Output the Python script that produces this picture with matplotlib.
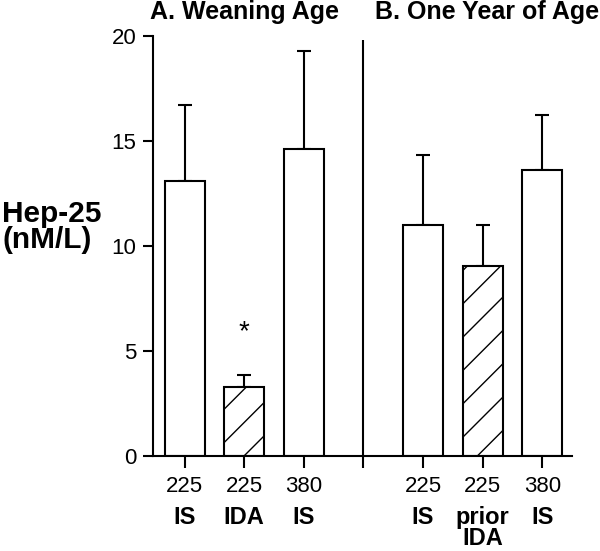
import numpy as np
import matplotlib
matplotlib.use("Agg")
import matplotlib.pyplot as plt
import matplotlib.transforms as mtransforms

plt.rcParams['font.family'] = ['Liberation Sans', 'DejaVu Sans']
plt.rcParams['hatch.linewidth'] = 1.0

# data
doses = ['225', '225', '380', '', '225', '225', '380']
groups = ['IS', 'IDA', 'IS', 'IS', 'prior\nIDA', 'IS']
bar_pos = [0, 1, 2, 4, 5, 6]
means = [13.1, 3.25, 14.6, 11.0, 9.05, 13.6]
sem = [3.6, 0.6, 4.65, 3.3, 1.95, 2.6]
hatched = [False, True, False, False, True, False]
panel_titles = ['A. Weaning Age', 'B. One Year of Age']

fig = plt.figure(figsize=(6, 5.51), dpi=100)
ax = fig.add_axes([153 / 600, 1 - 455.7 / 551, 419 / 600, 420 / 551])

for x, m, h in zip(bar_pos, means, hatched):
    ax.bar(x, m, width=0.67, color='white', edgecolor='black', linewidth=1.5,
           hatch='/' if h else None, zorder=2)

ax.errorbar(bar_pos, means, yerr=[np.zeros(len(sem)), sem], fmt='none',
            ecolor='black', elinewidth=1.5, capsize=5, capthick=1.5, zorder=1)

# divider between the two panels
ax.vlines(3, 0, 19.8, color='black', linewidth=1.5)

# significance star
ax.text(1, 5.9, '*', ha='center', va='center', fontsize=20)

ax.set_xlim(-0.53, 6.5)
ax.set_ylim(0, 20)
ax.set_yticks([0, 5, 10, 15, 20])
ax.set_xticks(range(7))
ax.set_xticklabels(doses)
ax.tick_params(axis='both', direction='out', width=1.5, labelsize=16, color='black')
ax.tick_params(axis='x', length=8.5, pad=6)
ax.tick_params(axis='y', length=7, pad=5)
for s in ['top', 'right']:
    ax.spines[s].set_visible(False)
for s in ['left', 'bottom']:
    ax.spines[s].set_linewidth(1.5)

trans = mtransforms.blended_transform_factory(ax.transData, fig.transFigure)
for x, g in zip(bar_pos, groups):
    for i, line in enumerate(g.split('\n')):
        ax.text(x, 1 - (524 + 21 * i) / 551, line, transform=trans, ha='center',
                va='baseline', fontsize=17, fontweight='bold')

ax.text(-0.58, 1 - 19 / 551, panel_titles[0], transform=trans, ha='left',
        va='baseline', fontsize=18, fontweight='bold')
ax.text(3.2, 1 - 19 / 551, panel_titles[1], transform=trans, ha='left',
        va='baseline', fontsize=18, fontweight='bold')

fig.text(2 / 600, 1 - 222 / 551, 'Hep-25', ha='left', va='baseline',
         fontsize=21.5, fontweight='bold')
fig.text(2 / 600, 1 - 248 / 551, '(nM/L)', ha='left', va='baseline',
         fontsize=21.5, fontweight='bold')

fig.savefig('out.png', dpi=100)
